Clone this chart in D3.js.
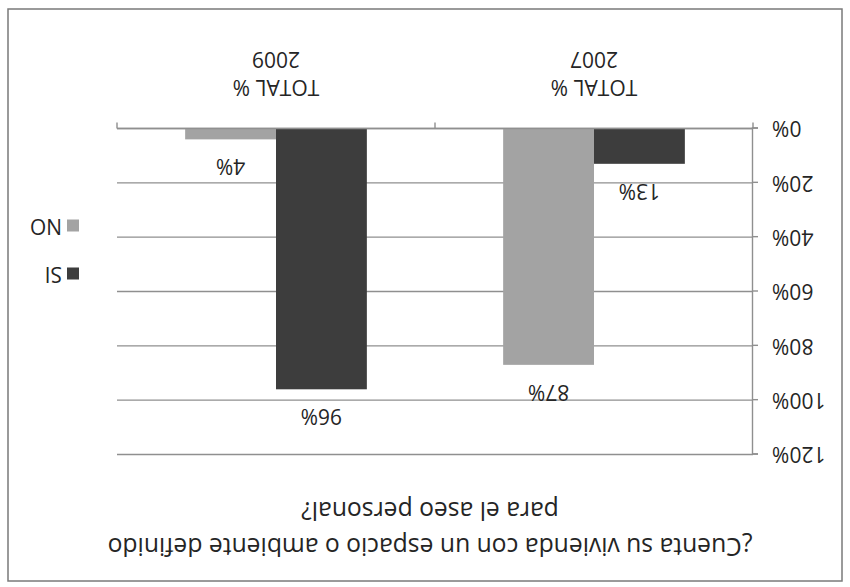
<!DOCTYPE html>
<html>
<head>
<meta charset="utf-8">
<script src="https://cdn.jsdelivr.net/npm/d3@7"></script>
<style>
  body { margin: 0; background: #fff; }
  text { font-family: "Open Sans", sans-serif; fill: #252525; }
</style>
</head>
<body>
<svg id="chart"></svg>
<script>
// chart data
var categories = ["TOTAL % 2007", "TOTAL % 2009"];
var seriesNames = ["SI", "NO"];
var siValues = [13, 96];
var noValues = [87, 4];
var yTicks = [0, 20, 40, 60, 80, 100, 120];
var titleLines = ["¿Cuenta su vivienda con un espacio o ambiente definido", "para el aseo personal?"];

var W = 850, H = 587;
var colors = {SI: "#3d3d3d", NO: "#a3a3a3"};

var svg = d3.select("#chart")
    .attr("width", W)
    .attr("height", H);

// the scanned picture is upside down, so draw normally and turn it round
var root = svg.append("g")
    .attr("transform", "rotate(180," + W / 2 + "," + H / 2 + ")");

// frame
root.append("rect")
    .attr("x", 8).attr("y", 6)
    .attr("width", 834).attr("height", 572)
    .attr("fill", "none")
    .attr("stroke", "#7a7a7a")
    .attr("stroke-width", 1.5);

var plot = {left: 97, right: 733, top: 132.5, bottom: 458.5};

var x0 = d3.scaleBand()
    .domain(categories)
    .range([plot.left, plot.right]);

// excel gap width 150%
var barW = x0.bandwidth() / 3.5;
var x1 = d3.scaleBand()
    .domain(seriesNames)
    .range([0, barW * 2]);

var y = d3.scaleLinear()
    .domain([0, 120])
    .range([plot.bottom, plot.top]);

// gridlines
root.append("g")
  .selectAll("line")
  .data(yTicks)
  .enter().append("line")
    .attr("x1", plot.left)
    .attr("x2", plot.right)
    .attr("y1", function(d) { return y(d); })
    .attr("y2", function(d) { return y(d); })
    .attr("stroke", "#8f8f8f")
    .attr("stroke-width", 1.4);

// bars
var rows = categories.map(function(c, i) {
    return {cat: c, vals: [{s: "SI", v: siValues[i]}, {s: "NO", v: noValues[i]}]};
});

var groups = root.selectAll(".grp")
    .data(rows)
    .enter().append("g")
    .attr("class", "grp")
    .attr("transform", function(d) {
        return "translate(" + (x0(d.cat) + x0.bandwidth() / 2 - barW) + ",0)";
    });

groups.selectAll("rect")
    .data(function(d) { return d.vals; })
    .enter().append("rect")
    .attr("x", function(d) { return x1(d.s); })
    .attr("width", x1.bandwidth())
    .attr("y", function(d) { return y(d.v); })
    .attr("height", function(d) { return y(0) - y(d.v); })
    .attr("fill", function(d) { return colors[d.s]; });

// data labels
groups.selectAll(".lbl")
    .data(function(d) { return d.vals; })
    .enter().append("text")
    .attr("class", "lbl")
    .attr("x", function(d) { return x1(d.s) + x1.bandwidth() / 2; })
    .attr("y", function(d) { return y(d.v) - 20; })
    .attr("text-anchor", "middle")
    .style("font-size", "21px")
    .text(function(d) { return d.v + "%"; });

// y axis
var yAxis = root.append("g")
    .attr("transform", "translate(" + plot.left + ",0)")
    .call(d3.axisLeft(y).tickValues(yTicks).tickSize(5).tickPadding(14)
        .tickFormat(function(d) { return d + "%"; }));
yAxis.select(".domain").attr("stroke", "#8f8f8f").attr("stroke-width", 1.4);
yAxis.selectAll(".tick line").attr("stroke", "#8f8f8f").attr("stroke-width", 1.4);
yAxis.selectAll("text")
    .style("font-family", "'Open Sans', sans-serif")
    .style("font-size", "21px")
    .attr("fill", "#252525");

// category axis: ticks between categories, labels centred
var xAxis = root.append("g");
xAxis.append("line")
    .attr("x1", plot.left).attr("x2", plot.right)
    .attr("y1", y(0)).attr("y2", y(0))
    .attr("stroke", "#8f8f8f").attr("stroke-width", 1.4);
var bounds = categories.map(function(c) { return x0(c); }).concat([plot.right]);
xAxis.selectAll(".ctick")
    .data(bounds)
    .enter().append("line")
    .attr("class", "ctick")
    .attr("x1", function(d) { return d; })
    .attr("x2", function(d) { return d; })
    .attr("y1", y(0))
    .attr("y2", y(0) + 6)
    .attr("stroke", "#8f8f8f").attr("stroke-width", 1.4);

var catText = xAxis.selectAll(".cat")
    .data(categories)
    .enter().append("text")
    .attr("class", "cat")
    .attr("text-anchor", "middle")
    .style("font-size", "21px");
catText.append("tspan")
    .attr("x", function(d) { return x0(d) + x0.bandwidth() / 2; })
    .attr("y", y(0) + 48.5)
    .text(function(d) { return d.split(" ").slice(0, 2).join(" "); });
catText.append("tspan")
    .attr("x", function(d) { return x0(d) + x0.bandwidth() / 2; })
    .attr("y", y(0) + 76.5)
    .text(function(d) { return d.split(" ")[2]; });

// title
root.append("g")
  .selectAll("text")
  .data(titleLines)
  .enter().append("text")
    .attr("x", 420)
    .attr("y", function(d, i) { return 49 + i * 36; })
    .attr("text-anchor", "middle")
    .style("font-size", "24.7px")
    .text(function(d) { return d; });

// legend
var legend = root.append("g")
  .selectAll("g")
  .data(seriesNames)
  .enter().append("g")
    .attr("transform", function(d, i) { return "translate(771," + (313.5 + i * 48) + ")"; });
legend.append("rect")
    .attr("x", 0).attr("y", -6)
    .attr("width", 12).attr("height", 12)
    .attr("fill", function(d) { return colors[d]; });
legend.append("text")
    .attr("x", 17)
    .attr("y", 7)
    .style("font-size", "21px")
    .text(function(d) { return d; });
</script>
</body>
</html>
